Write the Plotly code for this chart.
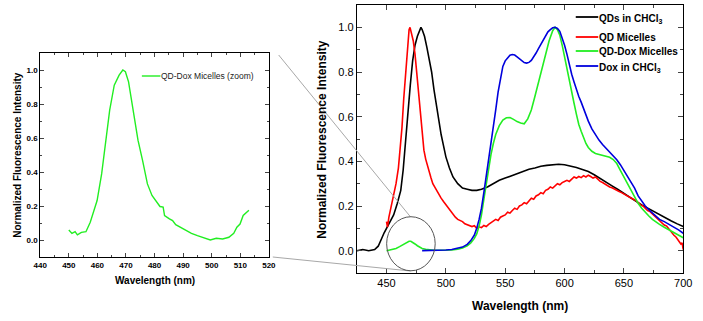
import plotly.graph_objects as go

# ---------------- data ----------------
qd_wl = [425, 430, 435, 440, 443, 446, 448, 450, 453, 456, 459, 462, 464, 466, 468, 470, 472, 474, 476, 478, 479,
         480, 482, 484, 486, 488, 490, 492, 494, 496, 498, 500, 503, 506, 510, 514, 518, 522, 526, 530, 535, 540,
         545, 550, 555, 560, 565, 570, 575, 580, 585, 590, 595, 600, 605, 610, 615, 620, 625, 630, 635, 640, 645,
         650, 655, 660, 665, 670, 675, 680, 685, 690, 695, 700]
qd_val = [0.0, 0.005, 0.0, 0.005, 0.02, 0.06, 0.08, 0.1, 0.13, 0.16, 0.21, 0.27, 0.36, 0.5, 0.63, 0.74, 0.85, 0.92,
          0.96, 0.99, 1.0, 0.99, 0.96, 0.91, 0.86, 0.8, 0.72, 0.65, 0.58, 0.52, 0.47, 0.42, 0.37, 0.33, 0.3, 0.28,
          0.275, 0.27, 0.27, 0.275, 0.285, 0.3, 0.315, 0.325, 0.335, 0.345, 0.355, 0.365, 0.37, 0.378, 0.382, 0.386,
          0.387, 0.385, 0.38, 0.372, 0.363, 0.354, 0.34, 0.322, 0.305, 0.29, 0.274, 0.258, 0.24, 0.222, 0.205, 0.19,
          0.175, 0.16, 0.145, 0.133, 0.12, 0.108]

mic_wl = [450, 450.8, 452, 454, 456, 458, 460, 461.5, 463, 464.5, 466, 467.5, 469, 469.8, 471, 472.5, 474, 475.5,
          477, 478.5, 480, 481.5, 483, 484.5, 486, 487.5, 489, 490.5, 492, 494, 496, 498, 500, 502, 504, 506, 508,
          510, 512, 514, 516, 518, 520, 522, 524, 526, 528, 530, 532, 534, 536, 538, 540, 542, 544, 546, 548, 550,
          552, 554, 556, 558, 560, 562, 564, 566, 568, 570, 572, 574, 576, 578, 580, 582, 584, 586, 588, 590, 592,
          594, 596, 598, 600, 602, 604, 606, 608, 610, 612, 614, 616, 618, 620, 622, 624, 626, 628, 630, 632, 634,
          636, 638, 640, 642, 644, 646, 648, 650, 652, 654, 656, 658, 660, 662, 664, 666, 668, 670, 672, 674, 676,
          678, 680, 682, 684, 686, 688, 690, 692, 694, 696, 698, 699, 700]
mic_val = [0.13, 0.105, 0.15, 0.2, 0.25, 0.3, 0.37, 0.45, 0.55, 0.68, 0.8, 0.92, 0.99, 1.0, 0.97, 0.94, 0.88, 0.79,
           0.69, 0.6, 0.52, 0.45, 0.41, 0.38, 0.345, 0.325, 0.3, 0.285, 0.27, 0.255, 0.235, 0.22, 0.205, 0.19, 0.175,
           0.16, 0.15, 0.14, 0.135, 0.13, 0.12, 0.115, 0.11, 0.108, 0.112, 0.1, 0.107, 0.103, 0.113, 0.108, 0.118,
           0.125, 0.13, 0.14, 0.135, 0.15, 0.155, 0.16, 0.172, 0.168, 0.18, 0.19, 0.185, 0.2, 0.205, 0.215, 0.21,
           0.225, 0.235, 0.23, 0.245, 0.25, 0.26, 0.255, 0.27, 0.275, 0.285, 0.28, 0.29, 0.3, 0.295, 0.305, 0.31,
           0.315, 0.31, 0.322, 0.33, 0.325, 0.332, 0.327, 0.336, 0.33, 0.338, 0.332, 0.325, 0.33, 0.318, 0.31, 0.305,
           0.298, 0.292, 0.285, 0.282, 0.275, 0.272, 0.265, 0.26, 0.253, 0.248, 0.24, 0.236, 0.23, 0.225, 0.215,
           0.205, 0.2, 0.19, 0.18, 0.175, 0.165, 0.155, 0.145, 0.138, 0.125, 0.115, 0.11, 0.095, 0.085, 0.07, 0.06,
           0.045, 0.03, 0.035, 0.005]

dox_mic_wl = [450, 452, 455, 458, 461, 464, 467, 469, 470.5, 472, 474, 476, 478, 480, 483, 486, 490, 495, 500, 505,
              510, 514, 518, 521, 524, 526, 528, 530, 532, 534, 536, 538, 540, 542, 545, 548, 551, 554, 557, 560,
              563, 566, 569, 572, 575, 578, 581, 584, 587, 590, 592, 594, 596, 598, 600, 602, 604, 606, 608, 610,
              612, 614, 616, 618, 620, 623, 626, 629, 632, 635, 638, 641, 644, 647, 650, 653, 656, 659, 662, 665,
              668, 671, 674, 677, 680, 684, 688, 692, 696, 700]
dox_mic_val = [0.0, 0.003, 0.005, 0.01, 0.018, 0.028, 0.037, 0.042, 0.042, 0.038, 0.03, 0.022, 0.015, 0.01, 0.006,
               0.004, 0.002, 0.002, 0.002, 0.003, 0.006, 0.012, 0.022, 0.035, 0.055, 0.075, 0.11, 0.16, 0.23, 0.3,
               0.37, 0.43, 0.48, 0.52, 0.56, 0.585, 0.595, 0.596, 0.588, 0.578, 0.572, 0.568, 0.59, 0.63, 0.69, 0.75,
               0.81, 0.88, 0.94, 0.985, 1.0, 0.99, 0.965, 0.92, 0.865, 0.82, 0.77, 0.71, 0.66, 0.61, 0.565, 0.535,
               0.505, 0.48, 0.462, 0.445, 0.435, 0.43, 0.426, 0.423, 0.418, 0.408, 0.39, 0.36, 0.33, 0.295, 0.265,
               0.238, 0.212, 0.19, 0.17, 0.155, 0.14, 0.128, 0.118, 0.105, 0.093, 0.08, 0.068, 0.058]

dox_wl = [480, 485, 490, 495, 500, 505, 510, 514, 518, 521, 524, 526, 528, 530, 532, 534, 536, 538, 540, 542, 544,
          546, 548, 550, 552, 554, 556, 558, 560, 562, 564, 566, 568, 570, 572, 574, 576, 578, 580, 582, 584, 586,
          588, 590, 592, 594, 596, 598, 600, 602, 604, 606, 608, 610, 612, 614, 616, 618, 620, 623, 626, 629, 632,
          635, 638, 641, 644, 647, 650, 653, 656, 659, 662, 665, 668, 671, 674, 677, 680, 684, 688, 692, 696, 700]
dox_val = [0.0, 0.0, 0.001, 0.002, 0.003, 0.005, 0.01, 0.016, 0.028, 0.045, 0.07, 0.1, 0.14, 0.19, 0.26, 0.33, 0.41,
           0.48, 0.55, 0.63, 0.71, 0.775, 0.825, 0.85, 0.865, 0.875, 0.878, 0.876, 0.868, 0.858, 0.848, 0.842, 0.84,
           0.843, 0.852, 0.866, 0.885, 0.905, 0.925, 0.945, 0.965, 0.98, 0.99, 0.998, 1.0, 0.995, 0.982, 0.955, 0.92,
           0.88, 0.83, 0.79, 0.755, 0.72, 0.69, 0.665, 0.635, 0.605, 0.58, 0.545, 0.518, 0.495, 0.475, 0.458, 0.442,
           0.425, 0.407, 0.385, 0.36, 0.335, 0.31, 0.28, 0.245, 0.22, 0.2, 0.183, 0.17, 0.155, 0.14, 0.13, 0.118,
           0.107, 0.093, 0.078]

zoom_wl = [450, 451.1, 452.2, 453, 454.4, 456, 457.5, 458.8, 459.9, 461.5, 462.6, 464.3, 465.9, 467.6, 468.9, 469.8,
           470.9, 472.5, 474.2, 475.8, 477.5, 479.1, 480.8, 481.9, 483, 483.5, 485.2, 486.3, 487.4, 489, 490.7,
           492.9, 495, 497.3, 499.5, 501.6, 503.8, 506, 507.7, 508.8, 509.9, 511, 512, 513]
zoom_val = [0.059, 0.039, 0.049, 0.03, 0.045, 0.049, 0.104, 0.173, 0.232, 0.39, 0.528, 0.764, 0.911, 0.97, 1.0, 0.99,
            0.93, 0.764, 0.587, 0.468, 0.33, 0.262, 0.222, 0.197, 0.193, 0.144, 0.124, 0.114, 0.09, 0.075, 0.055,
            0.039, 0.026, 0.012, 0.0, 0.01, 0.006, 0.016, 0.039, 0.075, 0.094, 0.144, 0.16, 0.175]

names = ["QDs in CHCl<sub>3</sub>", "QD Micelles", "QD-Dox Micelles", "Dox in CHCl<sub>3</sub>"]
zoom_name = "QD-Dox Micelles (zoom)"

BLACK, RED, GREEN, BLUE = "#000000", "#ff0000", "#22ee22", "#0000dd"
colors = [BLACK, RED, GREEN, BLUE]
FONT = "Arial, Liberation Sans, sans-serif"
W, H = 703, 321


def px(x):
    return x / W


def py(y):
    return 1 - y / H


fig = go.Figure()
for wl, v, n, c in [(qd_wl, qd_val, names[0], BLACK), (mic_wl, mic_val, names[1], RED),
                    (dox_mic_wl, dox_mic_val, names[2], GREEN), (dox_wl, dox_val, names[3], BLUE)]:
    fig.add_trace(go.Scatter(x=wl, y=v, name=n, mode="lines", line=dict(color=c, width=1.6),
                             xaxis="x2", yaxis="y2", showlegend=False, hoverinfo="skip"))

fig.add_trace(go.Scatter(x=zoom_wl, y=zoom_val, name=zoom_name, mode="lines", line=dict(color=GREEN, width=1.4),
                         xaxis="x", yaxis="y", showlegend=False, hoverinfo="skip"))

axcommon = dict(showline=True, linecolor="black", linewidth=1, mirror="allticks", ticks="inside",
                showgrid=False, zeroline=False)

fig.update_layout(
    width=W, height=H, margin=dict(l=0, r=0, t=0, b=0),
    paper_bgcolor="white", plot_bgcolor="white",
    font=dict(family=FONT, color="black"),
    xaxis=dict(domain=[px(34), px(268)], range=[440, 520], anchor="y", dtick=10, tick0=440,
               ticklen=4, tickfont=dict(size=8, family=FONT, weight="bold"),
               minor=dict(ticks="inside", ticklen=2, dtick=5, tick0=440, showgrid=False), **axcommon),
    yaxis=dict(domain=[py(257), py(53)], range=[-0.1, 1.1], anchor="x", dtick=0.2, tick0=0,
               tickformat=".1f", ticklen=4, tickfont=dict(size=8, family=FONT, weight="bold"),
               minor=dict(ticks="inside", ticklen=2, dtick=0.1, tick0=0, showgrid=False), **axcommon),
    xaxis2=dict(domain=[px(358), px(692)], range=[425, 700], anchor="y2", dtick=50, tick0=450,
                ticklen=5, tickfont=dict(size=11, family=FONT),
                minor=dict(ticks="inside", ticklen=3, dtick=25, tick0=450, showgrid=False), **axcommon),
    yaxis2=dict(domain=[py(273), py(5)], range=[-0.1, 1.1], anchor="x2", dtick=0.2, tick0=0,
                tickformat=".1f", ticklen=5, tickfont=dict(size=11, family=FONT),
                minor=dict(ticks="inside", ticklen=3, dtick=0.1, tick0=0, showgrid=False), **axcommon),
    showlegend=False,
)

ann = [
    dict(text="<b>Normalized Fluorescence Intensity</b>", x=px(11), y=py(155), textangle=-90, font=dict(size=10)),
    dict(text="<b>Wavelength (nm)</b>", x=px(151), y=py(280), font=dict(size=10)),
    dict(text="<b>Normalized Fluorescence Intensity</b>", x=px(322), y=py(140), textangle=-90, font=dict(size=12)),
    dict(text="<b>Wavelength (nm)</b>", x=px(525), y=py(306), font=dict(size=12)),
]
for a in ann:
    fig.add_annotation(xref="paper", yref="paper", showarrow=False, xanchor="center", yanchor="middle",
                       font_family=FONT, **a)

# legends (drawn as line samples + text)
leg_y = [17, 37, 51, 66]
for n, c, yy in zip(names, colors, leg_y):
    fig.add_shape(type="line", xref="paper", yref="paper", x0=px(582), x1=px(605), y0=py(yy), y1=py(yy),
                  line=dict(color=c, width=1.8))
    off = 2.5 if "<sub>" in n else 0
    fig.add_annotation(xref="paper", yref="paper", x=px(604), y=py(yy + off), text="<b>" + n + "</b>",
                       showarrow=False, xanchor="left", yanchor="middle",
                       font=dict(size=10, family=FONT, color="black"))
fig.add_shape(type="line", xref="paper", yref="paper", x0=px(138), x1=px(157), y0=py(76), y1=py(76),
              line=dict(color=GREEN, width=1.4))
fig.add_annotation(xref="paper", yref="paper", x=px(156), y=py(76), text=zoom_name, showarrow=False,
                   xanchor="left", yanchor="middle", font=dict(size=8.5, family=FONT, color="#222222"))

# zoom connection lines and circle
fig.add_shape(type="line", xref="paper", yref="paper", x0=px(278), y0=py(55), x1=px(413), y1=py(217),
              line=dict(color="#a8a8a8", width=1))
fig.add_shape(type="line", xref="paper", yref="paper", x0=px(272), y0=py(257), x1=px(413), y1=py(271),
              line=dict(color="#a8a8a8", width=1))
fig.add_shape(type="circle", xref="x2", yref="y2", x0=450.1, x1=491, y0=-0.09, y1=0.152,
              line=dict(color="#555555", width=1))

fig.write_html("out.html", config={"displayModeBar": False, "staticPlot": True},
               post_script="document.body.style.margin='0';document.body.style.overflow='hidden';")
